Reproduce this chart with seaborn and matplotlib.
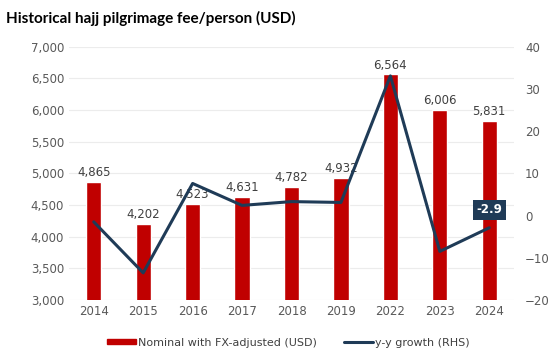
import numpy as np
import pandas as pd
import matplotlib.pyplot as plt
import matplotlib.patches as mpatches
from matplotlib.lines import Line2D
import seaborn as sns

years = ['2014', '2015', '2016', '2017', '2018', '2019', '2022', '2023', '2024']
fee_usd = [4865, 4202, 4523, 4631, 4782, 4932, 6564, 6006, 5831]
yoy_growth = [-1.5, -13.6, 7.6, 2.4, 3.3, 3.1, 33.1, -8.5, -2.9]

BAR_RED = '#c00000'
LINE_NAVY = '#1f3b57'
TXT = '#595959'

df = pd.DataFrame({'year': years, 'fee': fee_usd, 'growth': yoy_growth})
df['pos'] = np.arange(len(df))

sns.set_style('white')
plt.rcParams['font.family'] = ['DejaVu Sans']

fig = plt.figure(figsize=(5.5, 3.6), dpi=100)
ax = fig.add_axes([0.1255, 0.167, 0.809, 0.703])

sns.barplot(ax=ax, data=df, x='year', y='fee', color=BAR_RED, width=0.31, saturation=1)
ax.set_ylim(3000, 7000)
ax.set_yticks(range(3000, 7001, 500))
ax.set_yticklabels([f'{v:,}' for v in range(3000, 7001, 500)])
ax.yaxis.grid(True, color='#ececec', linewidth=0.8)
ax.set_axisbelow(True)
ax.bar_label(ax.containers[0], labels=[f'{v:,}' for v in fee_usd], padding=2, fontsize=8.5, color='#404040')
ax.set_xlabel('')
ax.set_ylabel('')
ax.tick_params(axis='both', labelsize=8.5, colors=TXT, length=0)
ax.set_xlim(-0.5, len(years) - 0.5)

ax2 = ax.twinx()
sns.lineplot(ax=ax2, data=df, x='pos', y='growth', color=LINE_NAVY, linewidth=2.2, sort=False)
ax2.set_ylim(-20, 40)
ax2.set_yticks(range(-20, 41, 10))
ax2.set_ylabel('')
ax2.tick_params(axis='y', labelsize=8.5, colors=TXT, length=0, pad=8)
ax2.set_xlim(-0.5, len(years) - 0.5)

for a in (ax, ax2):
    for s in a.spines.values():
        s.set_visible(False)

# callout on the latest growth value
ax2.annotate(f'{yoy_growth[-1]:.1f}', xy=(df['pos'].iloc[-1], yoy_growth[-1]), xytext=(0, 13),
             textcoords='offset points', ha='center', va='center', color='white', fontsize=8.5,
             fontweight='bold',
             bbox=dict(boxstyle='square,pad=0.3', fc=LINE_NAVY, ec='none'))

fig.text(0.01, 0.948, 'Historical hajj pilgrimage fee/person (USD)', fontsize=11, fontweight='bold',
         family=['Lato', 'DejaVu Sans'], color='black', va='center')

handles = [mpatches.Rectangle((0, 0), 1, 1, color=BAR_RED),
           Line2D([0], [0], color=LINE_NAVY, linewidth=2.2)]
labels = ['Nominal with FX-adjusted (USD)', 'y-y growth (RHS)']
leg = fig.legend(handles=handles, labels=labels, loc='center', bbox_to_anchor=(0.524, 0.048), ncol=2,
                 frameon=False, fontsize=8, handlelength=2.6, handleheight=0.35, handletextpad=0.2,
                 columnspacing=2.4)
for t in leg.get_texts():
    t.set_color('#404040')

fig.savefig('out.png', dpi=100)
